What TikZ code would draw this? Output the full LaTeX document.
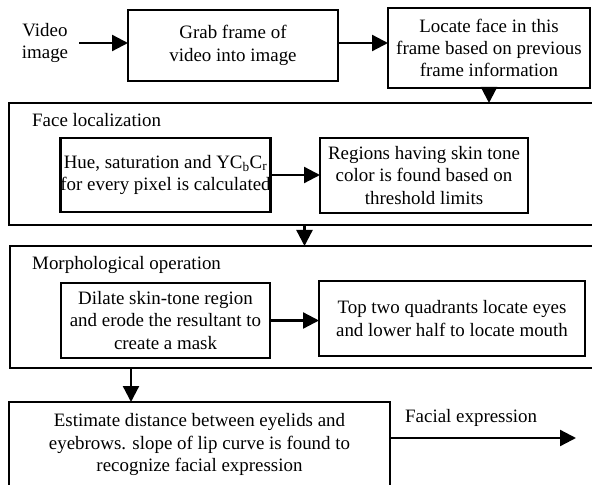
\documentclass[tikz,border=0pt]{standalone}
\usepackage{fontspec}
\setmainfont{Liberation Serif}
\usetikzlibrary{arrows.meta}
\tikzset{
  box/.style={draw, line width=2.3bp, inner sep=0pt, align=center, outer sep=0pt},
  arr/.style={line width=2.3bp, -{Triangle[length=16bp,width=16bp]}},
  lbl/.style={inner sep=0pt, align=center},
}
\begin{document}
\begin{tikzpicture}[x=1bp,y=-1bp, font=\fontsize{19}{22.5}\selectfont]
\useasboundingbox (0,0) rectangle (592,485);
\fill[white] (0,0) rectangle (592,485);
\clip (0,0) rectangle (592,485);
\node[lbl, inner xsep=11bp] (vid) at (45,43) {Video\\image};
\node[box, minimum width=210bp, minimum height=71bp] (b1) at (233,45.5) {Grab frame of\\video into image};
\node[box, minimum width=202bp, minimum height=80bp] (b2) at (489,48) {Locate face in this\\frame based on previous\\frame information};
\node[box, minimum width=591bp, minimum height=122bp] (face) at (304.5,164) {};
\node[lbl, anchor=west] (facet) at (32,120) {Face localization};
\node[box, minimum width=207bp, minimum height=74bp] (hue) at (165.5,175) {Hue, saturation and YC\textsubscript{b}C\textsubscript{r}\\for every pixel is calculated};
\node[box, minimum width=208bp, minimum height=75bp] (skin) at (424,175.5) {Regions having skin tone\\color is found based on\\threshold limits};
\node[box, minimum width=590bp, minimum height=122bp] (morph) at (305,307) {};
\node[lbl, anchor=west] (morpht) at (32,265) {Morphological operation};
\node[box, minimum width=209bp, minimum height=75bp] (dil) at (165.5,320.5) {Dilate skin-tone region\\and erode the resultant to\\create a mask};
\node[box, minimum width=266bp, minimum height=75bp] (quad) at (452,318.5) {Top two quadrants locate eyes\\and lower half to locate mouth};
\node[box, minimum width=381bp, minimum height=85bp] (est) at (199.5,444.5) {Estimate distance between eyelids and\\eyebrows. slope of lip curve is found to\\recognize facial expression};
\node[lbl, anchor=west] (fex) at (405,418) {Facial expression};
\coordinate (outend) at (576,438);
\draw[arr] (vid.east) -- (vid.east -| b1.west);
\draw[arr] (b1.east |- vid.east) -- (b2.west |- vid.east);
\draw[arr] (b2.south) -- (b2.south |- face.north);
\draw[arr] (hue.east) -- (hue.east -| skin.west);
\draw[arr] (face.south) -- (face.south |- morph.north);
\draw[arr] (dil.east) -- (dil.east -| quad.west);
\draw[arr] ([xshift=121bp]morph.south west) -- ([xshift=121bp]morph.south west |- est.north);
\draw[arr] (est.east |- outend) -- (outend);
\end{tikzpicture}
\end{document}
